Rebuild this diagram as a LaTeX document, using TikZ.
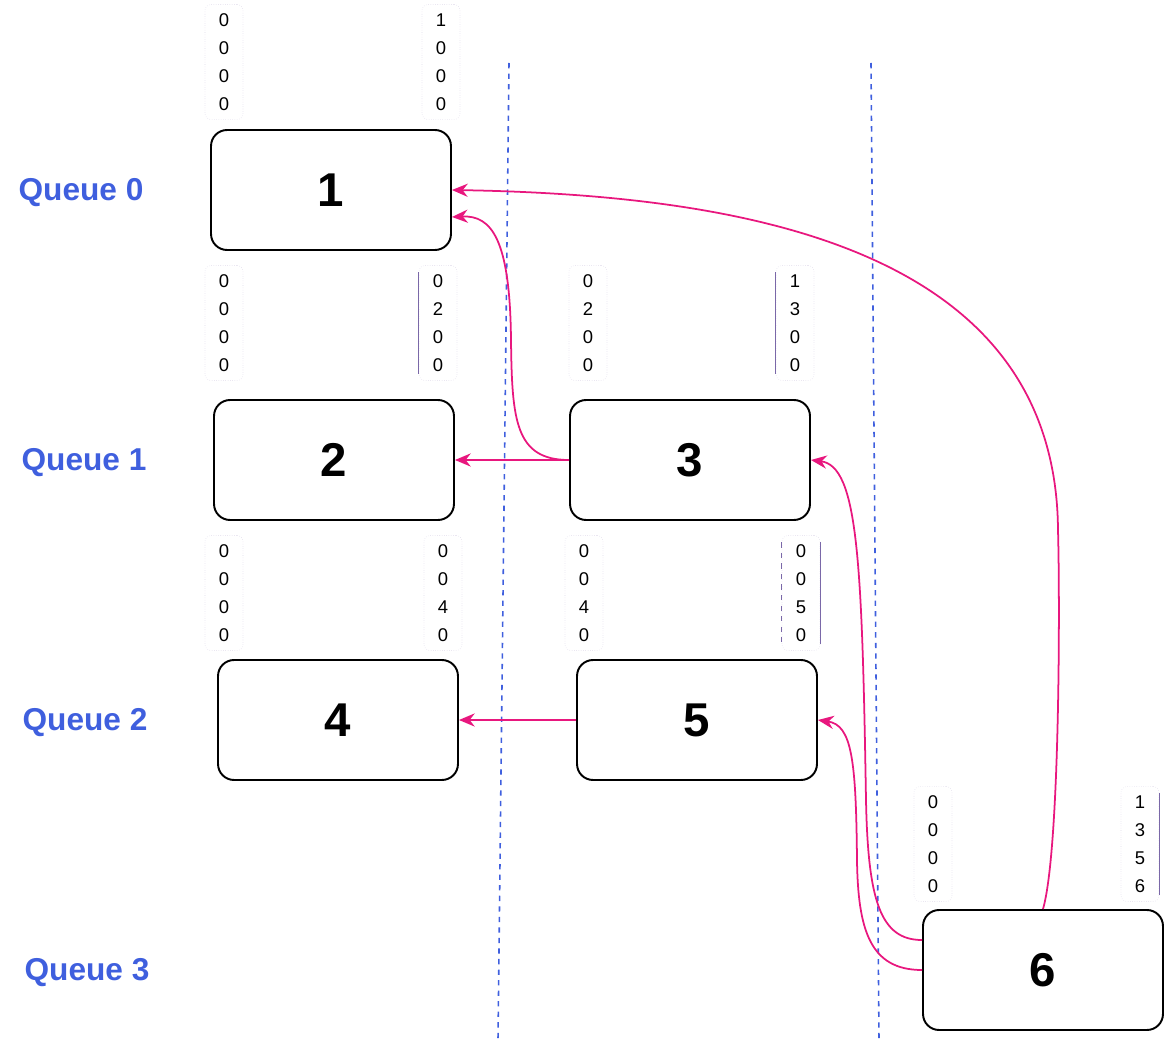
\documentclass[tikz,border=0pt]{standalone}
\usepackage{fontspec}
\setmainfont{Liberation Sans}
\usepackage{tikz}
\usetikzlibrary{arrows.meta}
\definecolor{qblue}{HTML}{3F5FDE}
\definecolor{msgpink}{HTML}{E8177E}
\definecolor{clockframe}{HTML}{7A68A8}

\begin{document}
\begin{tikzpicture}[x=0.02cm,y=-0.02cm,
		event/.style={draw,rounded corners=0.32cm,line width=1.1pt,minimum width=4.8cm,minimum height=2.4cm,font=\fontsize{27}{32}\selectfont\bfseries},
		queue/.style={text=qblue,font=\fontsize{18}{21}\selectfont\bfseries},
		clock/.style={align=center,minimum width=0.76cm,minimum height=2.3cm,inner sep=0pt,rounded corners=0.12cm,draw=clockframe!25,densely dotted,line width=0.3pt,font=\fontsize{10.5}{15.9}\selectfont},
		bar/.style={draw=clockframe,line width=0.5pt},
		msg/.style={draw=msgpink,line width=1pt,-{Stealth[length=9pt,width=7.5pt]}},
		sep/.style={draw=qblue,dashed,line width=0.9pt}]
		\useasboundingbox (0,0) rectangle (1164,1044);
		
		\node[queue] (q0) at (81,193) {Queue 0};
		\node[queue] (q1) at (84,463) {Queue 1};
		\node[queue] (q2) at (85,723) {Queue 2};
		\node[queue] (q3) at (87,973) {Queue 3};
		
		\node[event] (p1) at (331,190) {1};
		\node[event] (p2) at (334,460) {2};
		\node[event] (p3) at (690,460) {3};
		\node[event] (p4) at (338,720) {4};
		\node[event] (p5) at (697,720) {5};
		\node[event] (p6) at (1043,970) {6};
		
		\node[clock] (c1l) at (224,62) {0\\0\\0\\0};
		\node[clock] (c1r) at (441,62) {1\\0\\0\\0};
		\node[clock] (c2l) at (224,323) {0\\0\\0\\0};
		\node[clock] (c2r) at (438,323) {0\\2\\0\\0};
		\node[clock] (c3l) at (588,323) {0\\2\\0\\0};
		\node[clock] (c3r) at (795,323) {1\\3\\0\\0};
		\node[clock] (c4l) at (224,593) {0\\0\\0\\0};
		\node[clock] (c4r) at (443,593) {0\\0\\4\\0};
		\node[clock] (c5l) at (584,593) {0\\0\\4\\0};
		\node[clock] (c5r) at (801,593) {0\\0\\5\\0};
		\node[clock] (c6l) at (933,844) {0\\0\\0\\0};
		\node[clock] (c6r) at (1140,844) {1\\3\\5\\6};
		
		\draw[bar] ([yshift=-4pt]c2r.north west) -- ([yshift=4pt]c2r.south west);
		\draw[bar] ([yshift=-4pt]c3r.north west) -- ([yshift=4pt]c3r.south west);
		\draw[bar] ([yshift=-4pt]c5r.north east) -- ([yshift=4pt]c5r.south east);
		\draw[bar,dashed] ([yshift=-4pt]c5r.north west) -- ([yshift=4pt]c5r.south west);
		\draw[bar] ([yshift=-4pt]c6r.north east) -- ([yshift=4pt]c6r.south east);
		
		% process separators
		\coordinate (s1top) at (509,63);
		\coordinate (s1bot) at (498,1040);
		\coordinate (s2top) at (871,63);
		\coordinate (s2bot) at (879,1040);
		\draw[sep] (s1top) -- (s1bot);
		\draw[sep] (s2top) -- (s2bot);
		
		% messages
		\draw[msg] (p3.west) -- (p2.east);
		\draw[msg] (p5.west) -- (p4.east);
		\draw[msg] (p3.west) .. controls (515,460) and (512,420) .. (511,340) .. controls (510,240) and (492,215) .. ([yshift=-0.54cm]p1.east);
		\draw[msg] (p6.north) .. controls (1060,850) and (1060,600) .. (1058,530) .. controls (1056,250) and (750,195) .. (p1.east);
		\draw[msg] ([yshift=0.6cm]p6.west) .. controls (880,940) and (868,900) .. (866,800) .. controls (862,560) and (858,466) .. (p3.east);
		\draw[msg] (p6.west) .. controls (870,970) and (858,930) .. (857,860) .. controls (856,760) and (852,725) .. (p5.east);
	\end{tikzpicture}
\end{document}
